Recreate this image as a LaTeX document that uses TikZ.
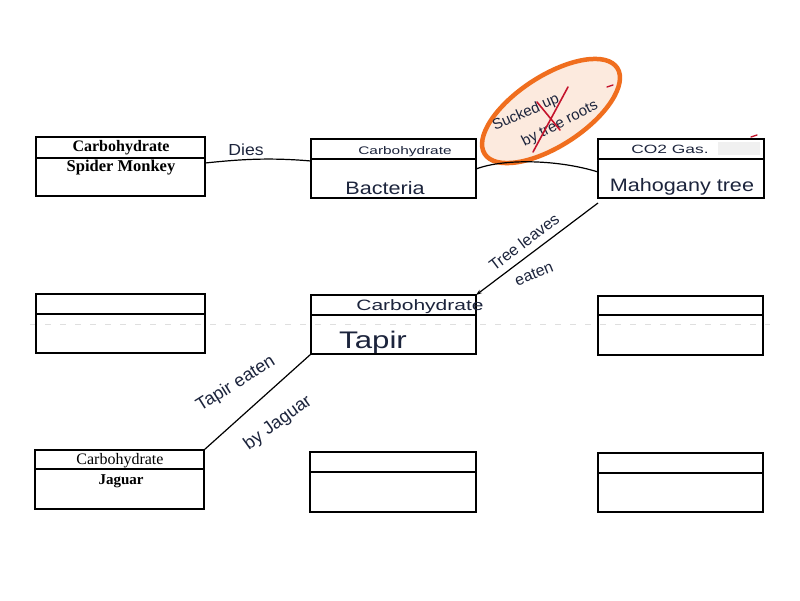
\documentclass[tikz,border=0pt]{standalone}
\usepackage{fontspec}
\setmainfont{Liberation Serif}
\newfontfamily\hand{Liberation Sans}
\usetikzlibrary{shapes.geometric,fit,arrows.meta}
\definecolor{ink}{RGB}{28,36,60}
\definecolor{hiorange}{RGB}{240,110,30}
\definecolor{hifill}{RGB}{252,234,222}
\definecolor{pen}{RGB}{196,20,44}
\begin{document}
\begin{tikzpicture}[x=1pt,y=-1pt,
  umlbox/.style={draw=black,line width=1.4pt,inner sep=0pt,outer sep=0pt},
  divider/.style={draw=black,line width=1.3pt},
  conn/.style={draw=black,line width=1.2pt},
  printed/.style={font=\fontsize{#1}{#1}\selectfont\bfseries,inner sep=0pt},
  printed/.default=15,
  printedreg/.style={font=\fontsize{16}{16}\selectfont,inner sep=0pt},
  handw/.style={font=\hand\fontsize{#1}{#1}\selectfont,text=ink,inner sep=0pt},
  handw/.default=14]
\useasboundingbox (0,0) rectangle (800,600);
\fill[white] (0,0) rectangle (800,600);

% scan artifact
\draw[gray!25,dashed,line width=0.6pt,dash pattern=on 6pt off 9pt] (30,324) -- (770,324);

% corner coordinates
\coordinate (a1) at (36,137); \coordinate (a2) at (205,196);
\coordinate (b1) at (311,139); \coordinate (b2) at (476,198);
\coordinate (c1) at (598,139); \coordinate (c2) at (764,198);
\coordinate (d1) at (36,294); \coordinate (d2) at (205,353);
\coordinate (e1) at (311,295); \coordinate (e2) at (476,354);
\coordinate (f1) at (598,296); \coordinate (f2) at (763,355);
\coordinate (g1) at (35,450); \coordinate (g2) at (204,509);
\coordinate (h1) at (310,452); \coordinate (h2) at (476,512);
\coordinate (i1) at (598,453); \coordinate (i2) at (763,512);

\node[umlbox,fit=(a1)(a2)] (A) {};
\node[umlbox,fit=(b1)(b2)] (B) {};
\node[umlbox,fit=(c1)(c2)] (C) {};
\node[umlbox,fit=(d1)(d2)] (D) {};
\node[umlbox,fit=(e1)(e2)] (E) {};
\node[umlbox,fit=(f1)(f2)] (F) {};
\node[umlbox,fit=(g1)(g2)] (G) {};
\node[umlbox,fit=(h1)(h2)] (H) {};
\node[umlbox,fit=(i1)(i2)] (I) {};

\draw[divider] (A.west |- 0,158) -- (A.east |- 0,158);
\draw[divider] (B.west |- 0,159) -- (B.east |- 0,159);
\draw[divider] (C.west |- 0,159) -- (C.east |- 0,159);
\draw[divider] (D.west |- 0,314) -- (D.east |- 0,314);
\draw[divider] (E.west |- 0,315) -- (E.east |- 0,315);
\draw[divider] (F.west |- 0,315) -- (F.east |- 0,315);
\draw[divider] (G.west |- 0,469) -- (G.east |- 0,469);
\draw[divider] (H.west |- 0,472) -- (H.east |- 0,472);
\draw[divider] (I.west |- 0,473) -- (I.east |- 0,473);

% faint whiteout in CO2 box
\fill[gray!12] (718,142) rectangle (760,155);

% printed texts
\node[printed=16] (At) at (121,148) {Carbohydrate};
\node[printed=16.5] (Ab) at (121,168) {Spider Monkey};
\node[printedreg] (Gt) at (120,461) {Carbohydrate};
\node[printed=15] (Gb) at (121,481) {Jaguar};

% handwritten box texts
\node[handw=11,xscale=1.4] (Bt) at (405,152) {Carbohydrate};
\node[handw=18,xscale=1.2] (Bb) at (385,188) {Bacteria};
\node[handw=12,xscale=1.45] (Ct) at (670,149) {CO2 Gas.};
\node[handw=18,xscale=1.2] (Cb) at (682,187) {Mahogany tree};
\node[handw=15,xscale=1.4] (Et) at (420,307) {Carbohydrate};
\node[handw=24,xscale=1.3] (Eb) at (373,342) {Tapir};

% highlight ellipse
\node[ellipse,draw=hiorange,fill=hifill,line width=4.5pt,
      minimum width=158pt,minimum height=70pt,rotate=33] (note) at (551,111) {};
\node[handw=15,rotate=24] (n1) at (526,113) {Sucked up};
\node[handw=15,rotate=27] (n2) at (560,124) {by tree roots};
\draw[pen,line width=1.6pt,line cap=round] (537,102) -- (560,130);
\draw[pen,line width=1.6pt,line cap=round] (568,87) -- (533,152);
\draw[pen,line width=1.4pt,line cap=round] (607,87) -- (613,85);
\draw[pen,line width=1.4pt,line cap=round] (751,137) -- (757,135);

% connectors
\draw[conn] (A.east |- 0,163) .. controls (235,160) and (265,157) .. (B.west |- 0,161);
\node[handw=16,xscale=1.1] (dies) at (246,150) {Dies};

\draw[conn] (B.east |- 0,169) .. controls (505,158) and (560,160) .. (C.west |- 0,172);

\draw[conn,-{Stealth[length=6pt,width=4pt]}] ([yshift=-5pt]C.south west) -- (E.north east);
\node[handw=16,rotate=37] (tl) at (524,242) {Tree leaves};
\node[handw=16,rotate=22] (te) at (534,274) {eaten};

\draw[conn] (E.south west) -- (G.north east);
\node[handw=18,rotate=32] (ta) at (236,384) {Tapir eaten};
\node[handw=18,rotate=36] (bj) at (278,423) {by Jaguar};
\end{tikzpicture}
\end{document}
